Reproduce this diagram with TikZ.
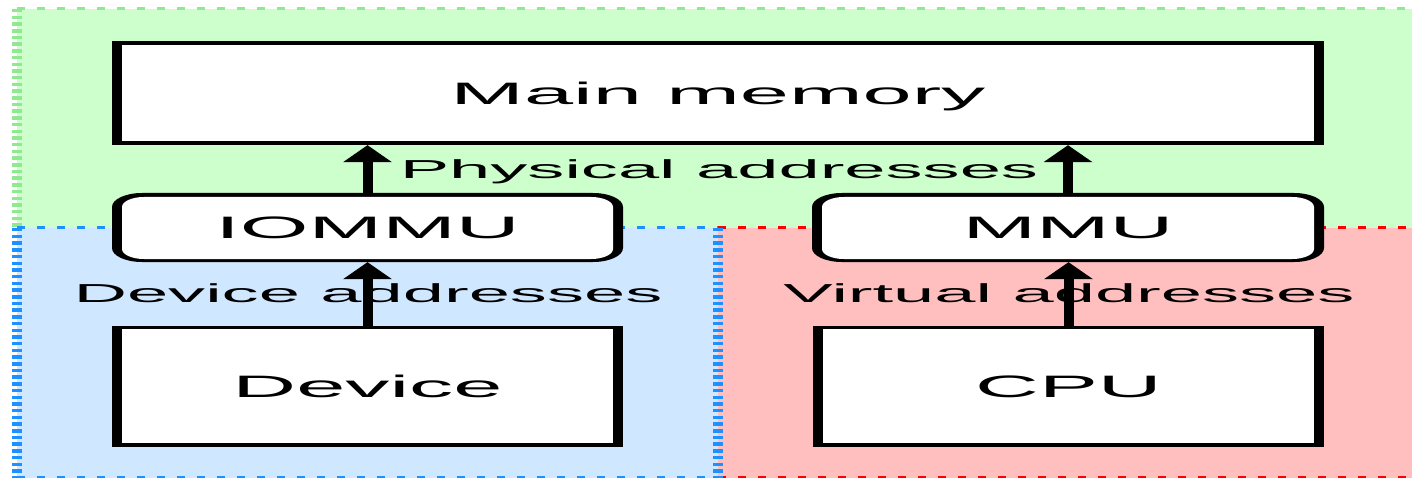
\documentclass[tikz,border=0pt]{standalone}
\usepackage{fontspec}
\setmainfont{Liberation Sans}
\usepackage{graphicx}
\usetikzlibrary{arrows.meta}
\definecolor{gfill}{RGB}{204,255,204}
\definecolor{gdash}{RGB}{144,232,144}
\definecolor{bfill}{RGB}{208,232,255}
\definecolor{bdash}{RGB}{30,144,255}
\definecolor{rfill}{RGB}{255,191,191}
\definecolor{rdash}{RGB}{255,0,0}
\newcommand{\rrpath}[6]{(#1+#5,#2) -- (#3-#5,#2) arc[start angle=-90,end angle=0,x radius=#5,y radius=#6] -- (#3,#4-#6) arc[start angle=0,end angle=90,x radius=#5,y radius=#6] -- (#1+#5,#4) arc[start angle=90,end angle=180,x radius=#5,y radius=#6] -- (#1,#2+#6) arc[start angle=180,end angle=270,x radius=#5,y radius=#6] -- cycle}
\newcommand{\wide}[1]{\scalebox{2.85}[1]{#1}}
\tikzset{
  hline/.style={line width=3pt, dash pattern=on 8pt off 12pt},
  vline/.style={line width=10pt, dash pattern=on 3.5pt off 3.2pt},
  boxlabel/.style={inner sep=0pt, font=\fontsize{31}{37}\selectfont, text height=22.2pt, text depth=0pt},
  edgelabel/.style={inner sep=0pt, font=\fontsize{26}{31}\selectfont, text height=18.6pt, text depth=0pt},
  arr/.style={line width=10pt, -{Triangle[width=49pt,length=17pt,line width=0pt]}},
}
\begin{document}
\begin{tikzpicture}[x=1pt,y=-1pt]
\useasboundingbox (0,0) rectangle (1412,478);
% regions
\fill[gfill] (17,9) rectangle (1412,228);
\draw[gdash,hline] (17,9) -- (1412,9);
\draw[gdash,vline] (17,9) -- (17,228);
\fill[rfill] (718,228) rectangle (1412,478);
\draw[rdash,hline] (718,228) -- (1412,228);
\draw[rdash,hline] (718,477) -- (1412,477);
\fill[bfill] (17,228) rectangle (718,478);
\draw[bdash,hline] (17,228) -- (718,228);
\draw[bdash,hline] (17,477) -- (718,477);
\draw[bdash,vline] (17,228) -- (17,478);
\draw[bdash,vline] (718,228) -- (718,478);
% box frames
\fill[black] (112,41) rectangle (1324,145);
\fill[white] (122,45) rectangle (1314,141);
\fill[black] \rrpath{112}{193}{623}{262}{30}{14};
\fill[white] \rrpath{122}{197}{613}{259}{22}{10};
\fill[black] \rrpath{812}{193}{1324}{262}{30}{14};
\fill[white] \rrpath{822}{197}{1314}{259}{22}{10};
\fill[black] (112,326) rectangle (623,447);
\fill[white] (122,329) rectangle (613,443);
\fill[black] (813,326) rectangle (1324,447);
\fill[white] (823,329) rectangle (1314,443);
% nodes
\node[boxlabel, minimum width=1212pt, minimum height=104pt] (mem) at (718,93) {\wide{Main memory}};
\node[boxlabel, minimum width=511pt, minimum height=69pt] (iommu) at (367.5,227.5) {\wide{IOMMU}};
\node[boxlabel, minimum width=512pt, minimum height=69pt] (mmu) at (1068,227.5) {\wide{MMU}};
\node[boxlabel, minimum width=511pt, minimum height=121pt] (dev) at (367.5,386.5) {\wide{Device}};
\node[boxlabel, minimum width=511pt, minimum height=121pt] (cpu) at (1068.5,386.5) {\wide{CPU}};
\node[edgelabel] (phys) at (719,169) {\wide{Physical addresses}};
\node[edgelabel] (devaddr) at (368,293) {\wide{Device addresses}};
\node[edgelabel] (virt) at (1069,293) {\wide{Virtual addresses}};
% arrows
\draw[arr] (iommu.north) -- (iommu.north |- mem.south);
\draw[arr] (mmu.north) -- (mmu.north |- mem.south);
\draw[arr] (dev.north) -- (iommu.south);
\draw[arr] (cpu.north) -- (cpu.north |- mmu.south);
\end{tikzpicture}
\end{document}
